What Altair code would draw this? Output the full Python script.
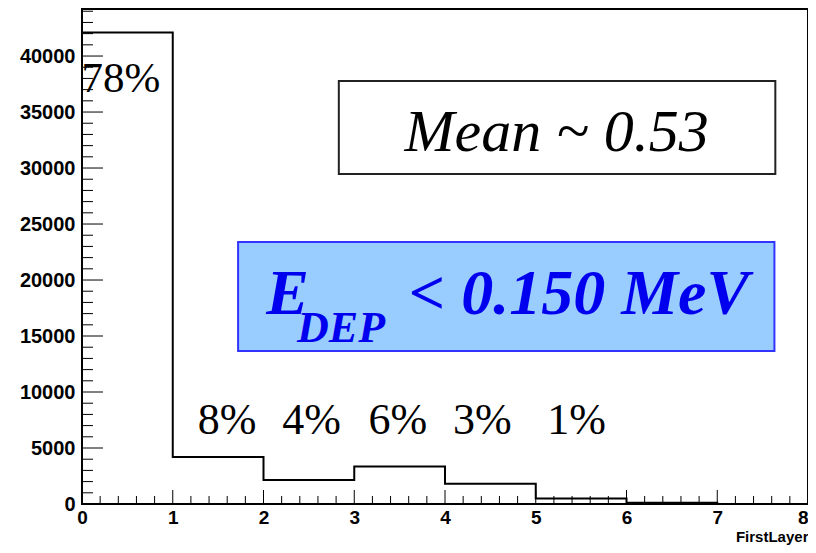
import altair as alt
import pandas as pd

# ---- data ----
bin_edges = [0, 1, 2, 3, 4, 5, 6, 7]
counts = [42100, 4200, 2150, 3350, 1800, 500, 120, 0]
pct_labels = ["8%", "4%", "6%", "3%", "1%"]
pct_x = [1.6, 2.53, 3.48, 4.41, 5.45]
first_label = "78%"
mean_text = "Mean ~ 0.53"
edep_main = "E"
edep_sub = "DEP"
edep_rest = "< 0.150 MeV"
x_tick_labels = [0, 1, 2, 3, 4, 5, 6, 7, 8]
y_tick_labels = [0, 5000, 10000, 15000, 20000, 25000, 30000, 35000, 40000]
x_minor = [round(i * 0.2, 1) for i in range(41) if i % 5 != 0]
y_minor = [i * 1000 for i in range(45) if i % 5 != 0]

XMAX = 8
YMAX = 44200
W, H = 726, 495

xs = alt.Scale(domain=[0, XMAX], nice=False, zero=False)
ys = alt.Scale(domain=[0, YMAX], nice=False, zero=False)

hist = pd.DataFrame({"x": bin_edges + [8], "y": counts + [counts[-1]]})

base_x = alt.X("x:Q", scale=xs,
               axis=alt.Axis(values=x_tick_labels, format="d", ticks=False, domain=False, grid=False,
                             labelFlush=False, labelOverlap=False,
                             labelAlign={"expr": "datum.value == 8 ? 'right' : 'center'"},
                             labelFont="Liberation Sans", labelFontWeight="bold", labelFontSize=19,
                             labelColor="black", labelPadding=4,
                             title="FirstLayer", titleFont="Liberation Sans", titleFontWeight="bold",
                             titleFontSize=15, titleColor="black", titleX=W, titleY=37,
                             titleAlign="right", titleBaseline="alphabetic", titleAngle=0))
base_y = alt.Y("y:Q", scale=ys,
               axis=alt.Axis(values=y_tick_labels, format="d", ticks=False, domain=False, grid=False,
                             labelFlush=False, labelOverlap=False,
                             labelFont="Liberation Sans", labelFontWeight="bold", labelFontSize=20,
                             labelColor="black", labelPadding=7, title=None))

line = alt.Chart(hist).mark_line(interpolate="step-after", color="black", strokeWidth=2).encode(
    x=base_x, y=base_y)

# inward ticks
xt_major = alt.Chart(pd.DataFrame({"x": x_tick_labels})).mark_rule(color="black", strokeWidth=1).encode(
    x=alt.X("x:Q", scale=xs), y=alt.value(H), y2=alt.value(H - 14))
xt_minor = alt.Chart(pd.DataFrame({"x": x_minor})).mark_rule(color="black", strokeWidth=1).encode(
    x=alt.X("x:Q", scale=xs), y=alt.value(H), y2=alt.value(H - 8))
yt_major = alt.Chart(pd.DataFrame({"y": y_tick_labels})).mark_rule(color="black", strokeWidth=1).encode(
    y=alt.Y("y:Q", scale=ys), x=alt.value(0), x2=alt.value(21))
yt_minor = alt.Chart(pd.DataFrame({"y": y_minor})).mark_rule(color="black", strokeWidth=1).encode(
    y=alt.Y("y:Q", scale=ys), x=alt.value(0), x2=alt.value(11))

# annotation boxes
mean_box = alt.Chart(pd.DataFrame({"x": [2.83], "x2": [7.64], "y": [37770], "y2": [29460]})).mark_rect(
    fill="white", stroke="#222222", strokeWidth=2).encode(
    x=alt.X("x:Q", scale=xs), x2="x2:Q", y=alt.Y("y:Q", scale=ys), y2="y2:Q")
edep_box = alt.Chart(pd.DataFrame({"x": [1.72], "x2": [7.63], "y": [23390], "y2": [13660]})).mark_rect(
    fill="#99CCFF", stroke="#3333FF", strokeWidth=2).encode(
    x=alt.X("x:Q", scale=xs), x2="x2:Q", y=alt.Y("y:Q", scale=ys), y2="y2:Q")

serif = "Liberation Serif"

pct = alt.Chart(pd.DataFrame({"x": pct_x, "y": [6250] * len(pct_x), "t": pct_labels})).mark_text(
    font=serif, fontSize=44, color="black", align="center", baseline="alphabetic").encode(
    x=alt.X("x:Q", scale=xs), y=alt.Y("y:Q", scale=ys), text="t:N")
first = alt.Chart(pd.DataFrame({"x": [0.43], "y": [36790], "t": [first_label]})).mark_text(
    font=serif, fontSize=43, color="black", align="center", baseline="alphabetic").encode(
    x=alt.X("x:Q", scale=xs), y=alt.Y("y:Q", scale=ys), text="t:N")
mean = alt.Chart(pd.DataFrame({"x": [5.23], "y": [31520], "t": [mean_text]})).mark_text(
    font=serif, fontSize=60, fontStyle="italic", color="black", align="center", baseline="alphabetic").encode(
    x=alt.X("x:Q", scale=xs), y=alt.Y("y:Q", scale=ys), text="t:N")
e_main = alt.Chart(pd.DataFrame({"x": [2.03], "y": [16960], "t": [edep_main]})).mark_text(
    font=serif, fontSize=64, fontStyle="italic", fontWeight="bold", color="#0000EE",
    align="left", baseline="alphabetic").encode(
    x=alt.X("x:Q", scale=xs), y=alt.Y("y:Q", scale=ys), text="t:N")
e_sub = alt.Chart(pd.DataFrame({"x": [2.37], "y": [14460], "t": [edep_sub]})).mark_text(
    font=serif, fontSize=44, fontStyle="italic", fontWeight="bold", color="#0000EE",
    align="left", baseline="alphabetic").encode(
    x=alt.X("x:Q", scale=xs), y=alt.Y("y:Q", scale=ys), text="t:N")
e_rest = alt.Chart(pd.DataFrame({"x": [3.6], "y": [16960], "t": [edep_rest]})).mark_text(
    font=serif, fontSize=64, fontStyle="italic", fontWeight="bold", color="#0000EE",
    align="left", baseline="alphabetic").encode(
    x=alt.X("x:Q", scale=xs), y=alt.Y("y:Q", scale=ys), text="t:N")

chart = alt.layer(
    mean_box, edep_box, line, xt_major, xt_minor, yt_major, yt_minor,
    pct, first, mean, e_main, e_sub, e_rest
).properties(
    width=W, height=H,
    autosize=alt.AutoSizeParams(type="none"),
    padding={"left": 74, "top": 1, "right": 0, "bottom": 41},
    background="white",
).configure_view(stroke="black", strokeWidth=2)

chart.save("out.html", embed_options={"renderer": "svg", "actions": False})
